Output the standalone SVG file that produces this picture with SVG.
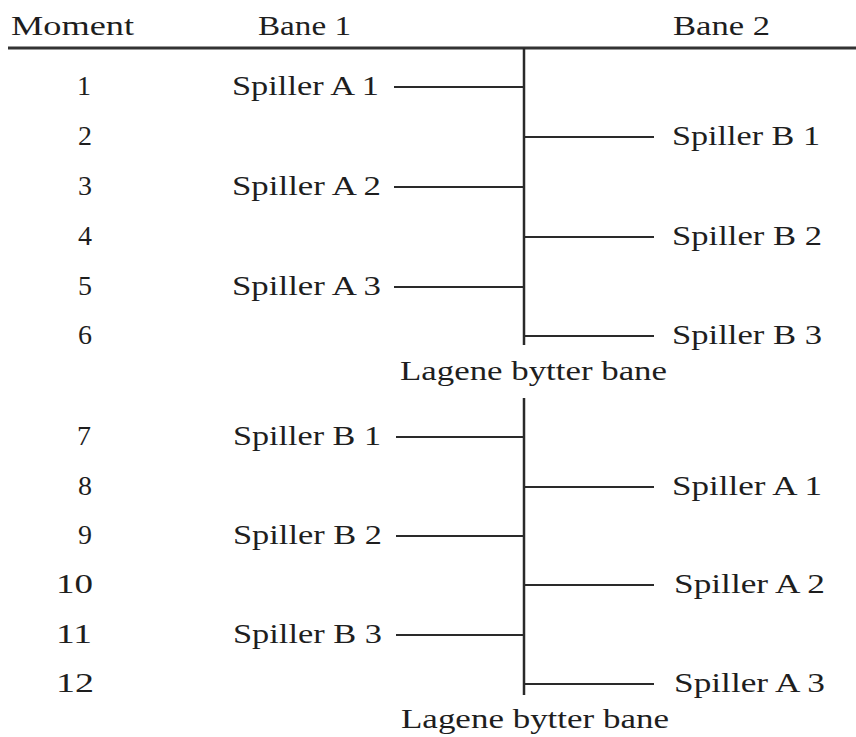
<svg xmlns="http://www.w3.org/2000/svg" width="856" height="737" viewBox="0 0 856 737">
<style>
text{font-family:"Liberation Serif","Times New Roman",serif;font-size:28px;fill:#1e1e1e}
.n{text-anchor:end}
.c line{stroke:#2a2a2a;stroke-width:2}
.c .v{stroke-width:2.5}
.c .h{stroke:#333;stroke-width:3}
</style>
<rect width="856" height="737" fill="#fff"/>
<g id="header">
<text x="11" y="35" textLength="123" lengthAdjust="spacingAndGlyphs">Moment</text>
<text x="258" y="35" textLength="93" lengthAdjust="spacingAndGlyphs">Bane 1</text>
<text x="673" y="35" textLength="97" lengthAdjust="spacingAndGlyphs">Bane 2</text>
</g>
<g class="c" id="connectors">
<line class="h" x1="8" y1="48" x2="856" y2="48"/>
<line class="v" x1="524" y1="48" x2="524" y2="345"/>
<line class="v" x1="524" y1="398" x2="524" y2="695"/>
<line x1="394" y1="87" x2="524" y2="87"/>
<line x1="524" y1="137" x2="654" y2="137"/>
<line x1="394" y1="187" x2="524" y2="187"/>
<line x1="524" y1="237" x2="654" y2="237"/>
<line x1="394" y1="287" x2="524" y2="287"/>
<line x1="524" y1="336" x2="654" y2="336"/>
<line x1="396" y1="437" x2="524" y2="437"/>
<line x1="524" y1="487" x2="654" y2="487"/>
<line x1="396" y1="536" x2="524" y2="536"/>
<line x1="524" y1="585" x2="654" y2="585"/>
<line x1="396" y1="635" x2="524" y2="635"/>
<line x1="524" y1="684" x2="654" y2="684"/>
</g>
<g id="row1"><text class="n" x="91" y="95">1</text><text x="232" y="95" textLength="147" lengthAdjust="spacingAndGlyphs">Spiller A 1</text></g>
<g id="row2"><text class="n" x="92" y="145">2</text><text x="672" y="145" textLength="148" lengthAdjust="spacingAndGlyphs">Spiller B 1</text></g>
<g id="row3"><text class="n" x="92" y="195">3</text><text x="232" y="195" textLength="149" lengthAdjust="spacingAndGlyphs">Spiller A 2</text></g>
<g id="row4"><text class="n" x="92" y="245">4</text><text x="672" y="245" textLength="150" lengthAdjust="spacingAndGlyphs">Spiller B 2</text></g>
<g id="row5"><text class="n" x="92" y="295">5</text><text x="232" y="295" textLength="149" lengthAdjust="spacingAndGlyphs">Spiller A 3</text></g>
<g id="row6"><text class="n" x="92" y="344">6</text><text x="672" y="344" textLength="150" lengthAdjust="spacingAndGlyphs">Spiller B 3</text></g>
<g id="swap1"><text x="400" y="380" textLength="267" lengthAdjust="spacingAndGlyphs">Lagene bytter bane</text></g>
<g id="row7"><text class="n" x="91" y="445">7</text><text x="233" y="445" textLength="148" lengthAdjust="spacingAndGlyphs">Spiller B 1</text></g>
<g id="row8"><text class="n" x="92" y="495">8</text><text x="672" y="495" textLength="150" lengthAdjust="spacingAndGlyphs">Spiller A 1</text></g>
<g id="row9"><text class="n" x="92" y="544">9</text><text x="233" y="544" textLength="149" lengthAdjust="spacingAndGlyphs">Spiller B 2</text></g>
<g id="row10"><text class="n" x="93" y="593" textLength="37" lengthAdjust="spacingAndGlyphs">10</text><text x="674" y="593" textLength="151" lengthAdjust="spacingAndGlyphs">Spiller A 2</text></g>
<g id="row11"><text class="n" x="92" y="643" textLength="36" lengthAdjust="spacingAndGlyphs">11</text><text x="233" y="643" textLength="149" lengthAdjust="spacingAndGlyphs">Spiller B 3</text></g>
<g id="row12"><text class="n" x="94" y="692" textLength="38" lengthAdjust="spacingAndGlyphs">12</text><text x="674" y="692" textLength="151" lengthAdjust="spacingAndGlyphs">Spiller A 3</text></g>
<g id="swap2"><text x="401" y="728" textLength="268" lengthAdjust="spacingAndGlyphs">Lagene bytter bane</text></g>
</svg>
